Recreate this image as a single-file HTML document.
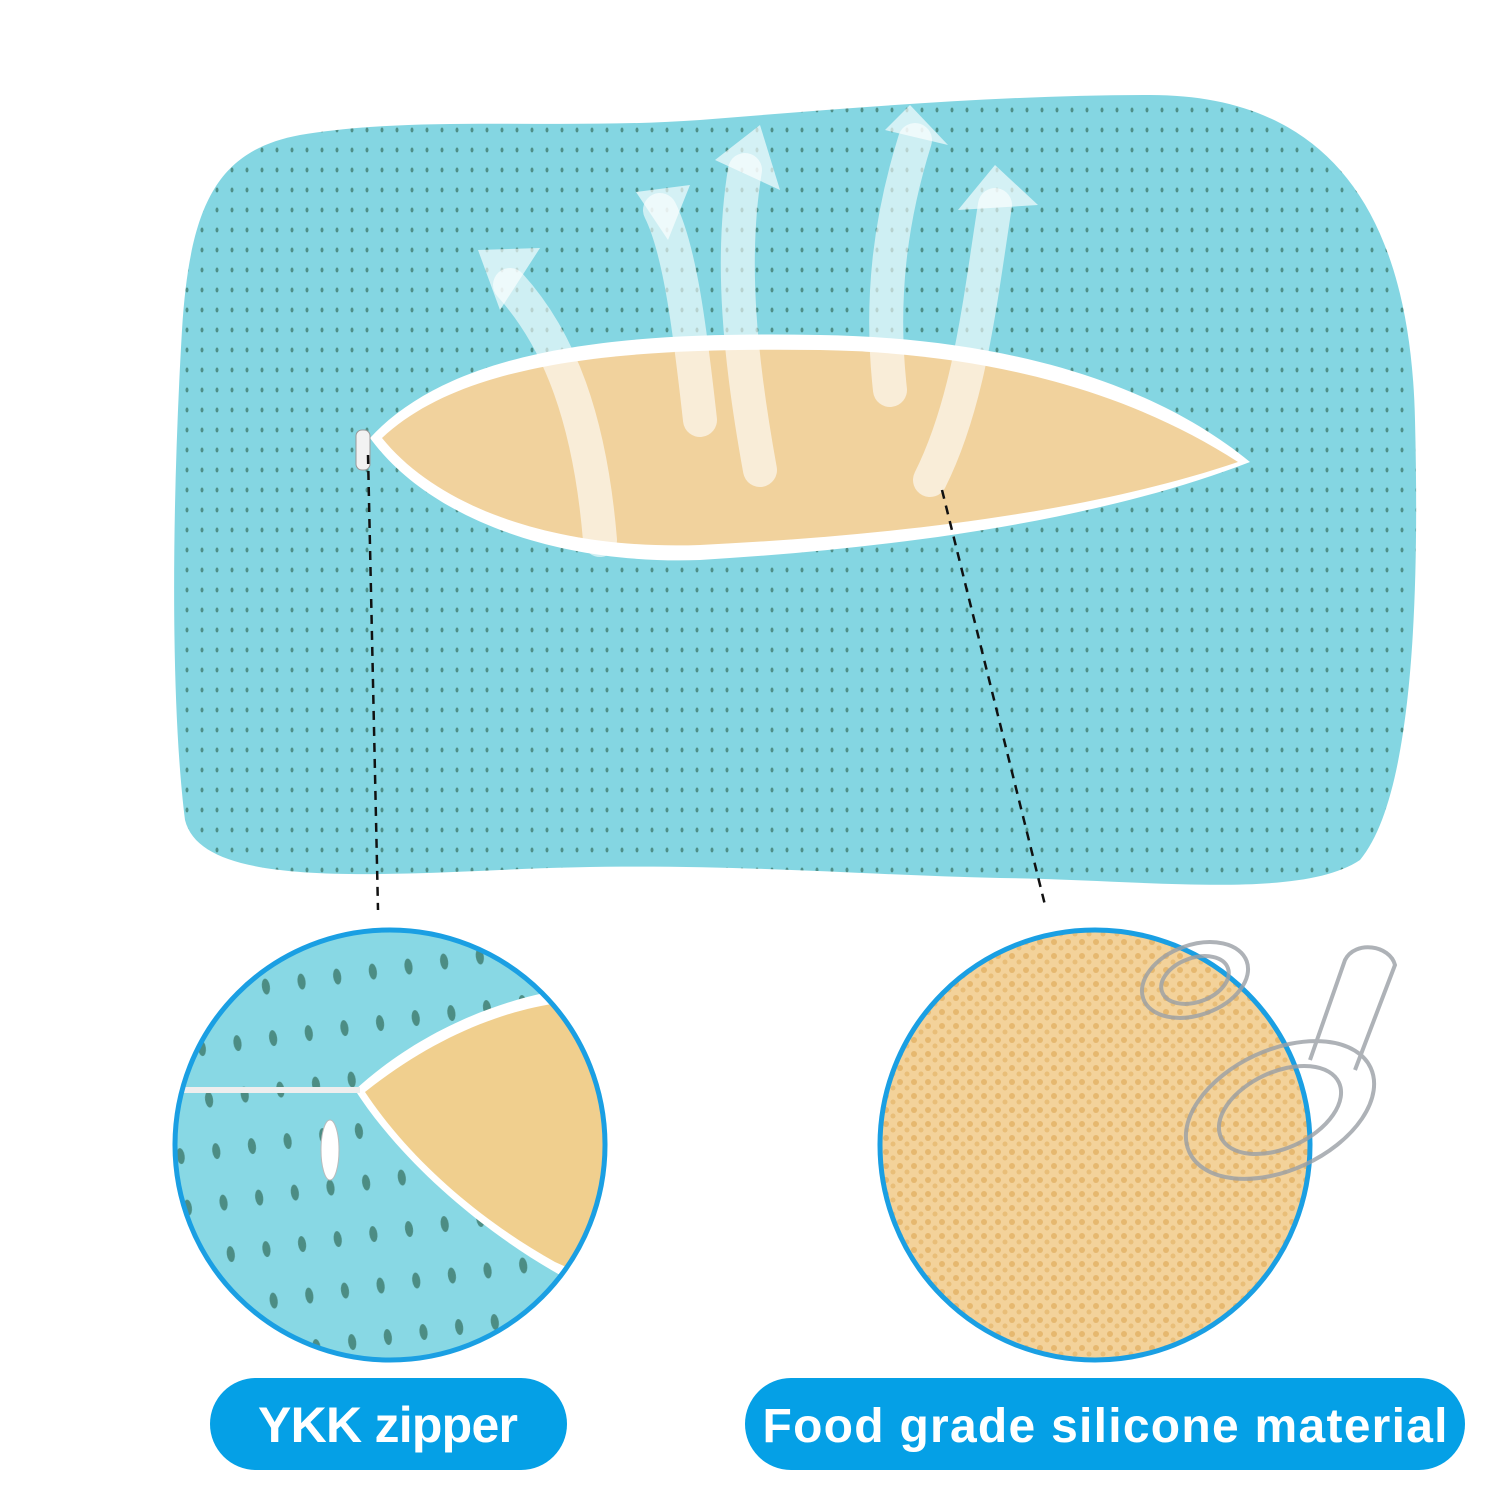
<!DOCTYPE html>
<html><head><style>html,body{margin:0;padding:0;background:#fff}svg{display:block}</style></head>
<body>
<svg width="1500" height="1500" viewBox="0 0 1500 1500" xmlns="http://www.w3.org/2000/svg">
<defs>
<pattern id="dots" width="15" height="20" patternUnits="userSpaceOnUse">
<rect width="15" height="20" fill="#84d6e2"/>
<ellipse cx="7" cy="10" rx="1.5" ry="2.5" fill="#4f8f88"/>
</pattern>
<pattern id="bigdots" width="36" height="52" patternUnits="userSpaceOnUse" patternTransform="rotate(-8)">
<rect width="36" height="52" fill="#88d8e4"/>
<ellipse cx="18" cy="26" rx="4" ry="8" fill="#4c8d84"/>
</pattern>
<pattern id="foam" width="14" height="14" patternUnits="userSpaceOnUse">
<rect width="14" height="14" fill="#f3d29a"/>
<circle cx="4" cy="4" r="3" fill="#e6b86f"/>
<circle cx="11" cy="10" r="2.5" fill="#e9be78"/>
</pattern>
<clipPath id="cl"><circle cx="390" cy="1145" r="213"/></clipPath>
<clipPath id="cr"><circle cx="1095" cy="1145" r="213"/></clipPath>
</defs>

<path d="M300,135 C420,115 560,130 700,120 C850,108 1000,95 1150,95 C1320,95 1410,200 1415,420 C1420,620 1410,800 1360,860 C1300,900 1150,880 1000,878 C850,875 700,860 500,870 C330,878 200,880 185,820 C170,700 172,500 182,330 C190,200 220,150 300,135 Z" fill="url(#dots)"/>

<path d="M370,438 C460,340 650,332 820,335 C1000,338 1150,380 1250,462 C1100,520 900,548 700,560 C560,565 430,520 370,438 Z" fill="#fff"/>
<path d="M382,438 C470,355 650,348 820,350 C990,353 1130,392 1238,462 C1090,512 900,535 700,545 C560,550 440,510 382,438 Z" fill="#f1d29d"/>

<g fill="none" stroke="#ffffff" stroke-opacity="0.6" stroke-width="34" stroke-linecap="round">
<path d="M600,540 C590,420 560,340 510,285"/>
<path d="M700,420 C690,330 680,250 660,210"/>
<path d="M760,470 C740,360 730,260 745,170"/>
<path d="M890,390 C880,300 890,220 915,140"/>
<path d="M930,480 C970,400 980,300 995,205"/>
</g>
<g fill="#ffffff" fill-opacity="0.65">
<polygon points="478,250 540,248 500,310"/>
<polygon points="636,192 690,185 668,240"/>
<polygon points="715,160 760,125 780,190"/>
<polygon points="885,130 910,105 948,145"/>
<polygon points="958,210 995,165 1038,205"/>
</g>

<rect x="356" y="430" width="14" height="40" rx="6" fill="#f2f2f2" stroke="#999" stroke-width="1"/>

<g stroke="#111" stroke-width="2.5" stroke-dasharray="9,7">
<line x1="368" y1="455" x2="378" y2="910"/>
<line x1="942" y1="490" x2="1045" y2="905"/>
</g>

<g clip-path="url(#cl)">
<rect x="170" y="930" width="440" height="440" fill="url(#bigdots)"/>
<path d="M355,1090 C420,1030 500,1000 560,990 L640,990 L640,1300 L560,1275 C480,1230 400,1160 355,1090 Z" fill="#fff"/>
<path d="M365,1092 C430,1040 500,1010 565,1002 L640,1002 L640,1300 L555,1262 C480,1220 410,1160 365,1092 Z" fill="#f0cf8e"/>
<rect x="170" y="1087" width="190" height="6" fill="#eee"/>
<ellipse cx="330" cy="1150" rx="9" ry="30" fill="#fff" stroke="#bbb"/>
</g>
<circle cx="390" cy="1145" r="215" fill="none" stroke="#1a9fe3" stroke-width="5"/>

<g clip-path="url(#cr)">
<rect x="870" y="920" width="450" height="450" fill="url(#foam)"/>
</g>
<circle cx="1095" cy="1145" r="215" fill="none" stroke="#1a9fe3" stroke-width="5"/>
<g fill="none" stroke="#9aa0a6" stroke-width="4" opacity="0.8">
<ellipse cx="1195" cy="980" rx="55" ry="35" transform="rotate(-20 1195 980)"/>
<ellipse cx="1195" cy="980" rx="35" ry="22" transform="rotate(-20 1195 980)"/>
<ellipse cx="1280" cy="1110" rx="100" ry="60" transform="rotate(-25 1280 1110)"/>
<ellipse cx="1280" cy="1110" rx="65" ry="38" transform="rotate(-25 1280 1110)"/>
<path d="M1310,1060 L1345,960 C1355,940 1390,945 1395,965 L1355,1070"/>
</g>

<rect x="210" y="1378" width="357" height="92" rx="46" fill="#05a0e6"/>
<text x="388" y="1442" text-anchor="middle" font-family="Liberation Sans, sans-serif" font-weight="bold" font-size="50" fill="#fff" textLength="260">YKK zipper</text>
<rect x="745" y="1378" width="720" height="92" rx="46" fill="#05a0e6"/>
<text x="1105" y="1442" text-anchor="middle" font-family="Liberation Sans, sans-serif" font-weight="bold" font-size="48" fill="#fff" textLength="685">Food grade silicone material</text>
</svg>
</body></html>
